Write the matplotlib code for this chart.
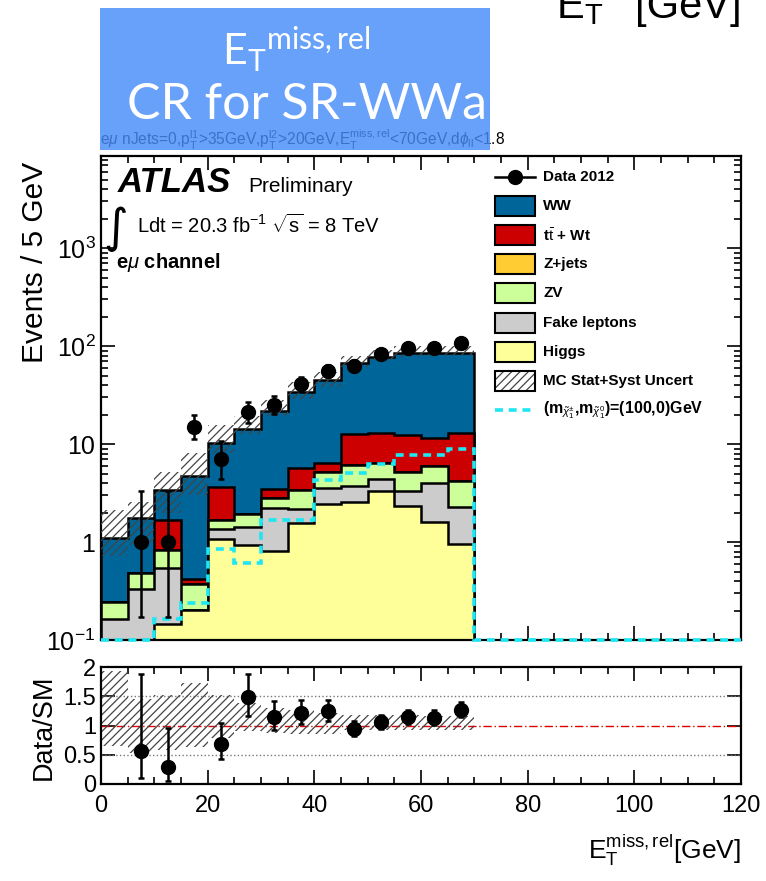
import math
import numpy as np
import matplotlib
matplotlib.use("Agg")
import matplotlib.pyplot as plt
from matplotlib.patches import Rectangle
from matplotlib.lines import Line2D
from matplotlib.ticker import FixedLocator, FixedFormatter, MultipleLocator, LogLocator, NullFormatter

plt.rcParams['font.family'] = ['Liberation Sans', 'DejaVu Sans']
plt.rcParams['mathtext.fontset'] = 'custom'
plt.rcParams['mathtext.rm'] = 'Liberation Sans'
plt.rcParams['mathtext.it'] = 'Liberation Sans:italic'
plt.rcParams['mathtext.bf'] = 'Liberation Sans:bold'
plt.rcParams['hatch.linewidth'] = 0.9

# ---------------- data ----------------
bin_edges = list(range(0, 75, 5))          # 0..70 GeV, 5 GeV bins
higgs = [0.0, 0.0, 0.146, 0.202, 1.07, 0.93, 0.81, 1.55, 2.43, 2.58, 3.34, 2.33, 1.61, 0.955]
fake = [0.165, 0.334, 0.394, 0.0, 0.28, 0.50, 1.40, 0.62, 1.10, 1.15, 1.02, 1.01, 2.36, 1.335]
zv = [0.081, 0.146, 0.29, 0.168, 0.34, 0.49, 0.62, 1.25, 1.69, 2.37, 2.04, 1.88, 2.00, 1.86]
zjets = [0.0] * 14
ttbar = [0.0, 0.0, 0.85, 0.049, 1.92, 0.03, 0.62, 2.33, 1.15, 6.5, 6.7, 7.18, 5.43, 8.95]
ww = [0.854, 1.27, 1.74, 4.30, 6.69, 12.2, 18.45, 28.05, 38.6, 53.9, 64.7, 71.9, 73.6, 72.5]
data = [0, 1, 1, 15, 7, 21, 25, 41, 56, 63, 82, 96, 96, 108]
unc_up = [0.93, 0.46, 0.52, 0.72, 0.52, 0.38, 0.30, 0.27, 0.21, 0.18, 0.18, 0.18, 0.17, 0.17]
unc_dn = [0.35, 0.47, 0.42, 0.36, 0.22, 0.10, 0.12, 0.15, 0.15, 0.08, 0.08, 0.08, 0.07, 0.07]
sig_edges = list(range(0, 125, 5))
signal = [0.0, 0.0, 0.163, 0.237, 0.85, 0.61, 1.67, 1.69, 4.29, 5.05, 6.2, 7.8, 7.8, 9.0] + [0.0] * 10

legend_labels = ['Data 2012', 'WW', r't$\bar{\mathrm{t}}$ + Wt', 'Z+jets', 'ZV', 'Fake leptons', 'Higgs',
                 'MC Stat+Syst Uncert', r'(m$_{\tilde{\chi}_1^{\pm}}$,m$_{\tilde{\chi}_1^{0}}$)=(100,0)GeV']
colors = {'ww': '#006699', 'tt': '#cc0000', 'zj': '#ffcc33', 'zv': '#ccff99', 'fk': '#cccccc', 'hg': '#ffff99'}
sig_color = '#1ee6f2'

W, H = 766, 881
def fx(x): return x / W
def fy(y): return 1 - y / H

# ---------------- Garwood intervals ----------------
def pcdf(k, mu):
    if k < 0:
        return 0.0
    s = 0.0
    for i in range(k + 1):
        s += math.exp(-mu + i * math.log(mu) - math.lgamma(i + 1)) if mu > 0 else (1.0 if i == 0 else 0.0)
    return s

def garwood(n, a=0.158655):
    if n == 0:
        lo = 0.0
    else:
        l, h = 0.0, n
        for _ in range(80):
            m = 0.5 * (l + h)
            if 1 - pcdf(n - 1, m) < a:
                l = m
            else:
                h = m
        lo = 0.5 * (l + h)
    l, h = n, n + 10 * math.sqrt(n + 1) + 10
    for _ in range(80):
        m = 0.5 * (l + h)
        if pcdf(n, m) > a:
            l = m
        else:
            h = m
    hi = 0.5 * (l + h)
    return lo, hi

edges = np.array(bin_edges, float)
centers = 0.5 * (edges[:-1] + edges[1:])
comp = [np.array(c, float) for c in (higgs, fake, zv, zjets, ttbar, ww)]
cums = np.cumsum(comp, axis=0)
total = cums[-1]
dat = np.array(data, float)
up = total * (1 + np.array(unc_up))
dn = total * (1 - np.array(unc_dn))

fig = plt.figure(figsize=(W / 100, H / 100), dpi=100)
ax = fig.add_axes([fx(101), fy(640), (741 - 101) / W, (640 - 156) / H])
rax = fig.add_axes([fx(101), fy(784), (741 - 101) / W, (784 - 667) / H])

YMIN = 0.1
ax.set_yscale('log')
ax.set_xlim(0, 120)
ax.set_ylim(YMIN, 8700)

order = [('ww', 5), ('tt', 4), ('zj', 3), ('zv', 2), ('fk', 1), ('hg', 0)]
for z, (key, i) in enumerate(order):
    vals = np.maximum(cums[i], 1e-3)
    ax.stairs(vals, edges, baseline=1e-3, fill=True, facecolor=colors[key], edgecolor='none', zorder=2 + z * 0.1)
    ax.stairs(vals, edges, baseline=1e-3, fill=False, color='black', lw=1.8, zorder=2.05 + z * 0.1)

# uncertainty band
ax.bar(centers, up - dn, bottom=dn, width=5, facecolor='none', edgecolor='#444444', lw=0,
       hatch='////', zorder=3)

# signal
sig = np.array(signal, float)
ax.stairs(np.where(sig > 0, sig, YMIN), np.array(sig_edges, float), baseline=YMIN, fill=False,
          color=sig_color, lw=2.6, ls=(0, (2.2, 1.6)), zorder=4, clip_on=False)

# data
lohi = np.array([garwood(int(n)) for n in data])
m = dat > 0
ax.errorbar(centers[m], dat[m], yerr=[dat[m] - lohi[m, 0], lohi[m, 1] - dat[m]], fmt='o', color='black',
            ms=10, lw=1.8, capsize=2.5, capthick=1.8, zorder=5)

# axes style
for a in (ax, rax):
    for s in a.spines.values():
        s.set_linewidth(1.6)
    a.tick_params(which='both', direction='in', top=True, right=True, width=1.2)
    a.tick_params(which='major', length=10)
    a.tick_params(which='minor', length=5)
    a.xaxis.set_major_locator(MultipleLocator(20))
    a.xaxis.set_minor_locator(MultipleLocator(5))

ax.yaxis.set_major_locator(FixedLocator([0.1, 1, 10, 100, 1000]))
ax.yaxis.set_major_formatter(FixedFormatter([r'$10^{-1}$', '1', '10', r'$10^{2}$', r'$10^{3}$']))
ax.yaxis.set_minor_locator(LogLocator(base=10, subs=np.arange(2, 10)))
ax.yaxis.set_minor_formatter(NullFormatter())
ax.tick_params(axis='y', labelsize=18, pad=4)
ax.tick_params(axis='x', labelbottom=False)

# ratio panel
rax.set_xlim(0, 120)
rax.set_ylim(0, 2)
rax.set_yticks([0, 0.5, 1, 1.5, 2])
rax.set_yticklabels(['0', '0.5', '1', '1.5', '2'])
rax.tick_params(axis='both', labelsize=17)
rax.tick_params(axis='x', pad=8)
rax.axhline(1.5, color='#777777', ls=':', lw=1.0)
rax.axhline(0.5, color='#777777', ls=':', lw=1.0)
rax.axhline(1.0, color='#dd0000', ls=(0, (6, 2, 1, 2)), lw=1.0)
rax.bar(centers, np.array(unc_up) + np.array(unc_dn), bottom=1 - np.array(unc_dn), width=5, facecolor='none',
        edgecolor='#444444', lw=0, hatch='////', zorder=2)
r = np.where(m, dat / total, np.nan)
rerr_lo = (dat - lohi[:, 0]) / total
rerr_hi = (lohi[:, 1] - dat) / total
rax.errorbar(centers[m], r[m], yerr=[rerr_lo[m], rerr_hi[m]], fmt='o', color='black', ms=10, lw=1.8,
             capsize=2.5, capthick=1.8, zorder=5)

# labels
fig.text(fx(35), fy(262), 'Events / 5 GeV', rotation=90, ha='center', va='center', fontsize=21.5)
fig.text(fx(44), fy(727), 'Data/SM', rotation=90, ha='center', va='center', fontsize=19.5)
fig.text(fx(741), fy(850), r'E$_{\mathrm{T}}^{\mathrm{miss,rel}}$[GeV]', ha='right', va='center', fontsize=19)

# ATLAS labels
fig.text(fx(118), fy(183), 'ATLAS', fontsize=25, fontweight='bold', style='italic', ha='left', va='center')
fig.text(fx(248), fy(186), 'Preliminary', fontsize=15, ha='left', va='center')
fig.text(fx(103), fy(229), '\u222b', fontsize=34, family='DejaVu Sans', ha='left', va='center')
fig.text(fx(137), fy(225), r'Ldt = 20.3 fb$^{-1}$ $\sqrt{\mathrm{s}}$ = 8 TeV', fontsize=14.5, ha='left', va='center')
fig.text(fx(116), fy(262), r'e$\mu$ channel', fontsize=14.5, fontweight='bold', ha='left', va='center')

# legend (manual)
rows = [177 + 29.1 * i for i in range(9)]
lx0, lx1, tx = 495, 535, 543
fig.add_artist(Line2D([fx(lx0), fx(lx1)], [fy(rows[0])] * 2, color='black', lw=1.8, transform=fig.transFigure))
fig.add_artist(Line2D([fx(515)], [fy(rows[0])], marker='o', ms=10, color='black', transform=fig.transFigure))
boxkeys = ['ww', 'tt', 'zj', 'zv', 'fk', 'hg']
for i, k in enumerate(boxkeys):
    y = rows[i + 1]
    fig.add_artist(Rectangle((fx(lx0), fy(y + 10)), (lx1 - lx0) / W, 20 / H, facecolor=colors[k],
                             edgecolor='black', lw=1.5, transform=fig.transFigure))
y = rows[7]
fig.add_artist(Rectangle((fx(lx0), fy(y + 10)), (lx1 - lx0) / W, 20 / H, facecolor='white',
                         edgecolor='#444444', lw=0, hatch='////', transform=fig.transFigure))
fig.add_artist(Rectangle((fx(lx0), fy(y + 10)), (lx1 - lx0) / W, 20 / H, facecolor='none',
                         edgecolor='black', lw=1.5, transform=fig.transFigure))
fig.add_artist(Line2D([fx(lx0), fx(lx1)], [fy(rows[8])] * 2, color=sig_color, lw=2.6, ls=(0, (2.2, 1.6)),
                      transform=fig.transFigure))
for i, lab in enumerate(legend_labels):
    fs = 11 if i < 8 else 11.5
    fig.text(fx(tx), fy(rows[i]), lab, fontsize=fs, fontweight='bold', ha='left', va='center')

# header
fig.text(fx(100), fy(146), r'e$\mu$ nJets=0,p$_{\mathrm{T}}^{\mathrm{l1}}$>35GeV,p$_{\mathrm{T}}^{\mathrm{l2}}$>20GeV,'
         r'E$_{\mathrm{T}}^{\mathrm{miss,rel}}$<70GeV,d$\phi_{\mathrm{ll}}$<1.8',
         fontsize=11.2, ha='left', va='baseline', stretch='condensed', zorder=1)
fig.add_artist(Rectangle((fx(100), fy(150)), 390 / W, 142 / H, facecolor='#478cf8', alpha=0.82,
                         edgecolor='none', transform=fig.transFigure, zorder=10))
fig.text(fx(296), fy(50), r'$\mathregular{E_{T}{}^{miss,rel}}$', family='Lato', color='white', fontsize=31,
         ha='center', va='center', zorder=11)
fig.text(fx(307), fy(105), 'CR for SR-WWa', family='Lato', color='white', fontsize=36,
         ha='center', va='center', zorder=11)
# cropped axis title remnant at top right (its superscript lies above the picture, as in the reference)
fig.text(fx(556), fy(18), r'E$_{\mathrm{T}}$', fontsize=30, ha='left', va='baseline')
fig.text(fx(742), fy(18), '[GeV]', fontsize=30, ha='right', va='baseline')

fig.savefig('out.png', dpi=100)
